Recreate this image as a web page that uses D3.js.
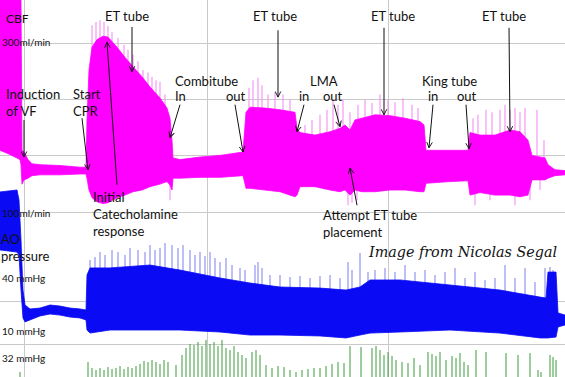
<!DOCTYPE html>
<html><head><meta charset="utf-8">
<script src="https://cdn.jsdelivr.net/npm/d3@7"></script>
<style>html,body{margin:0;padding:0;background:#fff;}svg{display:block;}</style>
</head><body>
<svg id="chart" width="565" height="377"></svg>
<script>
// ---------- DATA (time in s from VF induction) ----------
// Cerebral blood flow (ml/min): envelope of the trace
const cbfTime=[-24,-14,-4,-3,-2,0,4,8,16,36,56,62,63,65,68,73,79,84,93,101,109,118,126,136,143,146,148,149,156,176,196,219,222,226,241,256,271,273,276,291,306,316,321,326,331,338,351,366,381,396,400,402,426,444,446,456,471,486,496,504,508,521,524,531,541];
const cbfHigh=[351,351,351,351,173,171,162,157,156,155,153,153,209,268,295,304,308,307,295,283,272,260,248,235,223,211,185,164,162,165,167,171,218,224,223,221,218,199,194,191,195,199,203,197,209,211,215,214,211,207,203,173,173,173,194,191,191,197,195,185,167,164,156,150,149];
const cbfLow=[173,168,162,156,133,138,140,143,144,144,145,145,140,126,117,112,110,111,117,120,124,126,130,133,136,132,126,140,140,141,141,143,128,128,126,124,118,120,130,130,126,124,126,120,126,124,124,126,126,124,124,134,136,137,120,123,120,120,118,120,138,138,140,143,144];
// CBF systolic spikes (peaks above the envelope)
const cbfSpikeTime=[68,72,76,80,84,88,94,100,104,109,114,119,124,128,132,136,141,225,229,234,238,244,251,259,266,281,288,296,303,309,314,319,326,334,341,348,356,364,371,379,388,394,449,454,462,468,476,481,486,491,496,501,513,520];
const cbfSpikePeak=[321,325,327,325,320,313,306,298,292,286,278,268,265,260,256,254,239,247,256,259,250,239,242,239,233,203,209,215,221,233,227,233,218,227,233,229,239,233,230,235,227,223,211,215,221,218,221,227,221,223,218,223,221,185];
// CBF downward spikes
const cbfDipTime=[146,324,328,333,451,466,491,506,516];
const cbfDipValue=[114,108,111,114,108,114,108,114,126];

// Aortic pressure (mmHg): envelope
const aoTime=[-24,-7,-5,-3,-1,1,6,16,26,36,46,56,62,63,66,86,126,156,196,226,256,296,322,336,346,376,426,476,516,522,524,532,534,541];
const aoHigh=[87.8,88.9,83.3,61.1,33.3,25,22.8,23.3,25,24.4,23.3,22.8,22.2,41.7,45.6,45.6,47.2,44.4,40,37.2,35,34.4,33.3,35,38.9,38.9,36.1,33.3,29.4,28.9,43.3,43.3,20.6,19.4];
const aoLow=[55.6,54.4,52.8,33.3,17.8,15.6,16.7,18.9,20,19.4,18.3,17.8,16.7,11.1,9.4,11.1,11.1,11.1,10,8.3,8.3,7.8,6.7,8.3,9.4,10,11.1,9.4,6.7,6.7,6.7,7.2,12.8,13.9];
// Aortic systolic spikes
const aoSpikeTime=[66,71,76,81,88,94,101,106,114,121,126,131,136,141,148,154,159,166,171,176,181,186,191,196,202,208,216,221,231,234,238,246,256,266,276,286,296,306,316,324,328,336,344,351,361,371,381,391,401,411,421,431,441,451,461,471,481,491,501,511,521,526,529];
const aoSpikePeak=[50,51.7,54.4,52.8,55.6,54.4,52.8,56.7,55.6,54.4,58.3,55.6,56.7,59.4,58.3,56.7,58.3,55.6,52.8,54.4,52.2,54.4,51.1,48.9,51.1,47.2,45.6,44.4,47.2,48.9,45.6,41.7,41.7,40.6,41.1,40,41.1,41.7,40,48.9,44.4,53.9,43.3,44.4,45.6,43.3,47.2,43.3,44.4,41.7,43.3,45.6,40,43.3,38.9,40,47.2,40,45.6,37.8,45.6,46.1,44.4];

// End-tidal CO2 (mmHg) breaths
const co2Time=[-4,64,68,72,76,80,84,88,92,96,100,104,108,112,116,120,124,128,132,136,140,144,152,158,162,166,170,174,178,182,186,190,194,198,202,206,210,214,218,222,228,232,236,242,248,254,260,266,272,278,284,290,296,302,308,314,320,326,337,348,352,356,360,364,368,372,378,384,390,396,404,408,412,416,422,428,432,436,440,444,452,462,482,494,506,514,517,526,529,532];
const co2Value=[18,28,22,20,22,20,23,21,22,24,21,23,22,24,26,29,28,30,28,26,30,28,25,35,42,46,45,48,44,50,46,48,44,50,42,40,44,38,35,32,38,40,35,25,22,24,23,20,18,20,21,22,22,24,26,28,27,44,43,42,44,40,35,38,34,30,28,27,32,25,38,36,34,38,30,34,32,37,28,25,40,38,37,35,37,20,18,35,33,30];

// Axis reference values
const timeGrid=[0,183,364];
const cbfGrid=[300,233,167,100];
const aoGrid=[26.7,3.3];

// ---------- SCALES ----------
const svg=d3.select("#chart");
const W=565,H=377;
const x=d3.scaleLinear().domain([-24,541]).range([0,565]);
const yCBF=d3.scaleLinear().domain([100,300]).range([212,43]);
const yAO=d3.scaleLinear().domain([10,40]).range([332,278]);
const yCO2=d3.scaleLinear().domain([0,32]).range([390,358]);

svg.append("rect").attr("width",W).attr("height",H).attr("fill","#fff");

// grid
const grid=svg.append("g").attr("stroke","#c9c9c9").attr("stroke-width",1).attr("shape-rendering","crispEdges");
timeGrid.forEach(t=>grid.append("line").attr("x1",x(t)).attr("x2",x(t)).attr("y1",0).attr("y2",H));
cbfGrid.forEach(v=>grid.append("line").attr("x1",0).attr("x2",W).attr("y1",yCBF(v)).attr("y2",yCBF(v)));
aoGrid.forEach(v=>grid.append("line").attr("x1",0).attr("x2",W).attr("y1",yAO(v)).attr("y2",yAO(v)));

// ---------- CBF ----------
const MAG="#ff00ff", MAGL="#f39af3";
svg.append("g").attr("stroke",MAGL).attr("stroke-width",1.2).selectAll("line")
  .data(cbfSpikeTime).join("line")
  .attr("x1",d=>x(d)).attr("x2",d=>x(d))
  .attr("y1",(d,i)=>yCBF(cbfSpikePeak[i])).attr("y2",yCBF(150));
svg.append("g").attr("stroke",MAGL).attr("stroke-width",1.2).selectAll("line")
  .data(cbfDipTime).join("line")
  .attr("x1",d=>x(d)).attr("x2",d=>x(d))
  .attr("y1",(d,i)=>yCBF(cbfDipValue[i])).attr("y2",yCBF(150));
const cbfArea=d3.area().x((d,i)=>x(cbfTime[i])).y0((d,i)=>yCBF(cbfLow[i])).y1((d,i)=>yCBF(cbfHigh[i]));
svg.append("path").attr("d",cbfArea(cbfTime)).attr("fill",MAG).attr("stroke",MAG).attr("stroke-width",0.8);

// ---------- AO ----------
const BLU="#0a0af5", BLUL="#8a8af0";
svg.append("g").attr("stroke",BLUL).attr("stroke-width",1.1).selectAll("line")
  .data(aoSpikeTime).join("line")
  .attr("x1",d=>x(d)).attr("x2",d=>x(d))
  .attr("y1",(d,i)=>yAO(aoSpikePeak[i])).attr("y2",yAO(25));
const aoArea=d3.area().x((d,i)=>x(aoTime[i])).y0((d,i)=>yAO(aoLow[i])).y1((d,i)=>yAO(aoHigh[i]));
svg.append("path").attr("d",aoArea(aoTime)).attr("fill",BLU).attr("stroke",BLU).attr("stroke-width",0.8);

// ---------- CO2 ----------
svg.append("g").attr("stroke","#3c9c3c").attr("stroke-width",1).selectAll("line")
  .data(co2Time).join("line")
  .attr("x1",d=>x(d)).attr("x2",d=>x(d))
  .attr("y1",(d,i)=>yCO2(co2Value[i])).attr("y2",yCO2(0));

// ---------- TEXT ----------
const FONT="Lato, 'Open Sans', sans-serif";
const labels=[
  ["CBF",6,23,12],["300ml/min",2,46,10],["100ml/min",2,217,10],
  ["AO",1,244,13],["pressure",1,261,13],["40 mmHg",2,282,10],["10 mmHg",2,335,10],["32 mmHg",2,362,10],
  ["ET tube",105,21,13],["ET tube",253,21,13],["ET tube",371,21,13],["ET tube",482,21,13],
  ["Induction",6,99,13],["of VF",6,116,13],["Start",73,99,13],["CPR",73,116,13],
  ["Combitube",175,86,13],["In",175,101,13],["out",226,101,13],
  ["LMA",310,86,13],["in",299,101,13],["out",323,101,13],
  ["King tube",422,86,13],["in",428,101,13],["out",457,101,13],
  ["Initial",93,202,13],["Catecholamine",93,219,13],["response",93,236,13],
  ["Attempt ET tube",323,220,13],["placement",323,237,13]
];
svg.append("g").attr("font-family",FONT).attr("fill","#111").selectAll("text")
  .data(labels).join("text")
  .attr("x",d=>d[1]).attr("y",d=>d[2]).attr("font-size",d=>d[3]).text(d=>d[0]);
svg.append("text").attr("x",369).attr("y",257).attr("font-family","'DejaVu Serif', serif")
  .attr("font-style","italic").attr("font-size",15).attr("fill","#111")
  .attr("textLength",188).attr("lengthAdjust","spacingAndGlyphs").text("Image from Nicolas Segal");

// ---------- ARROWS (tail -> tip, in time / CBF units) ----------
const arrows=[
  [108,319,108,266],[93,132,83,301],[0,209,0,165],[58,211,64,150],
  [156,227,146,188],[211,227,219,171],[254,315,254,236],[280,227,273,195],
  [310,227,316,201],[333,108,326,152],[360,318,360,215],[409,227,405,176],
  [442,227,445,175],[485,318,486,195]
];
svg.append("defs").append("marker").attr("id","ah").attr("viewBox","0 0 10 10")
  .attr("refX",9).attr("refY",5).attr("markerWidth",7).attr("markerHeight",7)
  .attr("orient","auto").attr("markerUnits","userSpaceOnUse")
  .append("path").attr("d","M1,1 L9,5 L1,9").attr("fill","none").attr("stroke","#111").attr("stroke-width",1.3);
svg.append("g").attr("stroke","#111").attr("stroke-width",1).selectAll("line")
  .data(arrows).join("line")
  .attr("x1",d=>x(d[0])).attr("y1",d=>yCBF(d[1]))
  .attr("x2",d=>x(d[2])).attr("y2",d=>yCBF(d[3]))
  .attr("marker-end","url(#ah)");
</script>
</body></html>
